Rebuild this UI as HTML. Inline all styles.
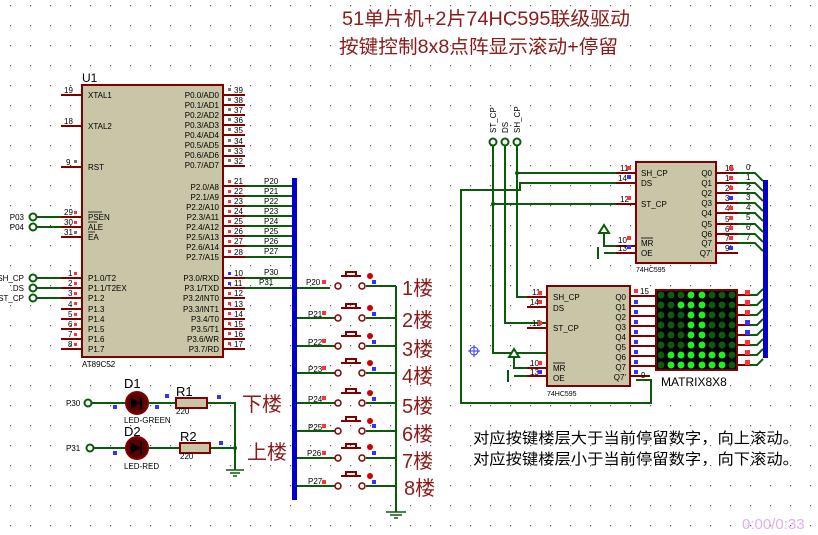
<!DOCTYPE html>
<html><head><meta charset="utf-8"><style>
html,body{margin:0;padding:0;background:#fff;width:818px;height:535px;overflow:hidden}
svg{display:block}
.t{font-family:"Liberation Sans",sans-serif;font-size:8px;fill:#000}
.n{font-family:"Liberation Sans",sans-serif;font-size:8px;fill:#000}
.cn{font-family:"Liberation Sans","Noto Sans CJK SC",sans-serif;fill:#8b1a1a}
.p{stroke:#800000;stroke-width:2;fill:none}
.w{stroke:#0b5a0b;stroke-width:2;fill:none}
.body{fill:#c8c6a6;stroke:#800000;stroke-width:2}
.r{fill:#f33}.b{fill:#33f}.g{fill:#777}
</style></head><body>
<svg width="818" height="535" viewBox="0 0 818 535" xmlns="http://www.w3.org/2000/svg">
<defs><pattern id="dots" width="20" height="20" patternUnits="userSpaceOnUse" x="10" y="5"><rect x="0" y="0" width="1.2" height="1.2" fill="#555"/></pattern></defs>
<rect width="818" height="535" fill="url(#dots)"/>

<!-- Titles -->
<text x="342" y="25" class="cn" font-size="19" textLength="288" lengthAdjust="spacingAndGlyphs">51单片机+2片74HC595联级驱动</text>
<text x="339" y="53" class="cn" font-size="19" textLength="279" lengthAdjust="spacingAndGlyphs">按键控制8x8点阵显示滚动+停留</text>

<!-- U1 -->
<text x="82" y="82" font-family="Liberation Sans" font-size="12">U1</text>
<g class="p">
<path d="M61 95H82M61 126H82M61 167H82M61 217H82M61 227H82M61 237H82"/>
<path d="M61 278H82M61 288H82M61 298H82M61 309H82M61 319H82M61 329H82M61 339H82M61 349H82"/>
<path d="M223 95H245M223 105H245M223 115H245M223 125H245M223 135H245M223 146H245M223 156H245M223 166H245"/>
<path d="M223 186H245M223 196H245M223 206H245M223 216H245M223 226H245M223 236H245M223 246H245M223 257H245"/>
<path d="M223 278H245M223 288H245M223 298H245M223 309H245M223 319H245M223 329H245M223 339H245M223 349H245"/>
</g>
<rect x="82" y="85" width="141" height="272" class="body"/>
<g class="t">
<text x="88" y="98">XTAL1</text><text x="88" y="129">XTAL2</text><text x="88" y="170">RST</text>
<text x="88" y="220">PSEN</text><text x="88" y="230">ALE</text><text x="88" y="240">EA</text>
<text x="88" y="281">P1.0/T2</text><text x="88" y="291">P1.1/T2EX</text><text x="88" y="301">P1.2</text><text x="88" y="312">P1.3</text><text x="88" y="322">P1.4</text><text x="88" y="332">P1.5</text><text x="88" y="342">P1.6</text><text x="88" y="352">P1.7</text>
</g>
<path d="M88 212H102M88 222H97M88 232H95" stroke="#000" stroke-width="0.8"/>
<g class="t" text-anchor="end">
<text x="219" y="98">P0.0/AD0</text><text x="219" y="108">P0.1/AD1</text><text x="219" y="118">P0.2/AD2</text><text x="219" y="128">P0.3/AD3</text><text x="219" y="138">P0.4/AD4</text><text x="219" y="148">P0.5/AD5</text><text x="219" y="158">P0.6/AD6</text><text x="219" y="168">P0.7/AD7</text>
<text x="219" y="190">P2.0/A8</text><text x="219" y="200">P2.1/A9</text><text x="219" y="210">P2.2/A10</text><text x="219" y="220">P2.3/A11</text><text x="219" y="230">P2.4/A12</text><text x="219" y="240">P2.5/A13</text><text x="219" y="250">P2.6/A14</text><text x="219" y="260">P2.7/A15</text>
<text x="219" y="281">P3.0/RXD</text><text x="219" y="291">P3.1/TXD</text><text x="219" y="301">P3.2/INT0</text><text x="219" y="312">P3.3/INT1</text><text x="219" y="322">P3.4/T0</text><text x="219" y="332">P3.5/T1</text><text x="219" y="342">P3.6/WR</text><text x="219" y="352">P3.7/RD</text>
</g>
<text x="82" y="367" class="t" font-size="7">AT89C52</text>
<g class="n" font-size="7">
<text x="64" y="93">19</text><text x="64" y="124">18</text><text x="66" y="165">9</text><text x="64" y="215">29</text><text x="64" y="225">30</text><text x="64" y="235">31</text>
<text x="68" y="276">1</text><text x="68" y="286">2</text><text x="68" y="296">3</text><text x="68" y="307">4</text><text x="68" y="317">5</text><text x="68" y="327">6</text><text x="68" y="337">7</text><text x="68" y="347">8</text>
<text x="234" y="93">39</text><text x="234" y="103">38</text><text x="234" y="113">37</text><text x="234" y="123">36</text><text x="234" y="133">35</text><text x="234" y="144">34</text><text x="234" y="154">33</text><text x="234" y="164">32</text>
<text x="234" y="184">21</text><text x="234" y="194">22</text><text x="234" y="204">23</text><text x="234" y="214">24</text><text x="234" y="224">25</text><text x="234" y="234">26</text><text x="234" y="244">27</text><text x="234" y="255">28</text>
<text x="234" y="276">10</text><text x="234" y="286">11</text><text x="234" y="296">12</text><text x="234" y="307">13</text><text x="234" y="317">14</text><text x="234" y="327">15</text><text x="234" y="337">16</text><text x="234" y="347">17</text>
</g>
<g class="g"><rect x="228" y="88" width="3" height="3"/><rect x="228" y="98" width="3" height="3"/><rect x="228" y="108" width="3" height="3"/><rect x="228" y="118" width="3" height="3"/><rect x="228" y="128" width="3" height="3"/><rect x="228" y="139" width="3" height="3"/><rect x="228" y="149" width="3" height="3"/><rect x="228" y="159" width="3" height="3"/><rect x="74" y="160" width="3" height="3"/><rect x="74" y="231" width="3" height="3"/></g>
<g class="r"><rect x="228" y="180" width="3" height="3"/><rect x="228" y="190" width="3" height="3"/><rect x="228" y="200" width="3" height="3"/><rect x="228" y="210" width="3" height="3"/><rect x="228" y="220" width="3" height="3"/><rect x="228" y="230" width="3" height="3"/><rect x="228" y="240" width="3" height="3"/><rect x="228" y="250" width="3" height="3"/>
<rect x="228" y="292" width="3" height="3"/><rect x="228" y="302" width="3" height="3"/><rect x="228" y="312" width="3" height="3"/><rect x="228" y="322" width="3" height="3"/><rect x="228" y="332" width="3" height="3"/><rect x="228" y="342" width="3" height="3"/>
<rect x="74" y="211" width="3" height="3"/><rect x="74" y="221" width="3" height="3"/><rect x="74" y="272" width="3" height="3"/><rect x="74" y="282" width="3" height="3"/><rect x="74" y="292" width="3" height="3"/><rect x="74" y="302" width="3" height="3"/><rect x="74" y="313" width="3" height="3"/><rect x="74" y="323" width="3" height="3"/><rect x="74" y="333" width="3" height="3"/><rect x="74" y="343" width="3" height="3"/></g>
<g class="b"><rect x="228" y="272" width="3" height="3"/><rect x="228" y="282" width="3" height="3"/></g>

<!-- left terminals -->
<g class="w"><path d="M37 217H61M37 227H61M37 278H61M37 288H61M37 298H61"/></g>
<g fill="#fff" stroke="#0b5a0b" stroke-width="2"><circle cx="33" cy="217" r="3.5"/><circle cx="33" cy="227" r="3.5"/><circle cx="33" cy="278" r="3.5"/><circle cx="33" cy="288" r="3.5"/><circle cx="33" cy="298" r="3.5"/></g>
<g class="n" text-anchor="end"><text x="24" y="220">P03</text><text x="24" y="230">P04</text><text x="24" y="281">SH_CP</text><text x="24" y="291">.DS</text><text x="24" y="301">ST_CP</text></g>

<!-- bus left -->
<g class="w"><path d="M245 186H293M245 196H293M245 206H293M245 216H293M245 226H293M245 236H293M245 246H293M245 257H293M245 278H293M245 288H330"/>
<path d="M297 318H335M297 346H335M297 373H335M297 403H335M297 431H335M297 458H335M297 486H335"/></g>
<rect x="292" y="178" width="5" height="322" fill="#0000c8"/>
<g class="n"><text x="264" y="184">P20</text><text x="264" y="194">P21</text><text x="264" y="204">P22</text><text x="264" y="214">P23</text><text x="264" y="224">P24</text><text x="264" y="234">P25</text><text x="264" y="244">P26</text><text x="264" y="254">P27</text><text x="264" y="275">P30</text><text x="259" y="285">P31</text>
<text x="306" y="285">P20</text><text x="308" y="317">P21</text><text x="308" y="345">P22</text><text x="308" y="372">P23</text><text x="308" y="402">P24</text><text x="308" y="430">P25</text><text x="307" y="456">P26</text><text x="308" y="484">P27</text></g>

<!-- switches -->
<g>
<g class="w"><path d="M366 286H396M366 318H396M366 346H396M366 373H396M366 403H396M366 431H396M366 458H396M366 486H396M396 286V512"/></g>
<g stroke="#800000" stroke-width="2" fill="none">
<path d="M341 276h20M346 276v-4h10v4"/><path d="M341 308h20M346 308v-4h10v4"/><path d="M341 336h20M346 336v-4h10v4"/><path d="M341 363h20M346 363v-4h10v4"/><path d="M341 393h20M346 393v-4h10v4"/><path d="M341 421h20M346 421v-4h10v4"/><path d="M341 448h20M346 448v-4h10v4"/><path d="M341 476h20M346 476v-4h10v4"/>
</g>
<g fill="#fff" stroke="#800000" stroke-width="1.5">
<circle cx="338" cy="286" r="3"/><circle cx="362" cy="286" r="3"/><circle cx="338" cy="318" r="3"/><circle cx="362" cy="318" r="3"/><circle cx="338" cy="346" r="3"/><circle cx="362" cy="346" r="3"/><circle cx="338" cy="373" r="3"/><circle cx="362" cy="373" r="3"/><circle cx="338" cy="403" r="3"/><circle cx="362" cy="403" r="3"/><circle cx="338" cy="431" r="3"/><circle cx="362" cy="431" r="3"/><circle cx="338" cy="458" r="3"/><circle cx="362" cy="458" r="3"/><circle cx="338" cy="486" r="3"/><circle cx="362" cy="486" r="3"/></g>
<g fill="#c00"><circle cx="370" cy="276" r="3"/><circle cx="370" cy="308" r="3"/><circle cx="370" cy="336" r="3"/><circle cx="370" cy="363" r="3"/><circle cx="370" cy="393" r="3"/><circle cx="370" cy="421" r="3"/><circle cx="370" cy="447" r="3"/><circle cx="370" cy="476" r="3"/></g>
<g class="b"><rect x="372" y="280" width="4" height="4"/><rect x="372" y="312" width="4" height="4"/><rect x="372" y="340" width="4" height="4"/><rect x="372" y="367" width="4" height="4"/><rect x="372" y="397" width="4" height="4"/><rect x="372" y="424" width="4" height="4"/><rect x="372" y="451" width="4" height="4"/><rect x="372" y="480" width="4" height="4"/></g>
<g class="r"><rect x="322" y="280" width="4" height="4"/><rect x="322" y="311" width="4" height="4"/><rect x="322" y="339" width="4" height="4"/><rect x="322" y="366" width="4" height="4"/><rect x="322" y="396" width="4" height="4"/><rect x="322" y="424" width="4" height="4"/><rect x="322" y="451" width="4" height="4"/><rect x="322" y="480" width="4" height="4"/></g>
<path d="M386 512h20M390 515h12M394 518h4" stroke="#0b5a0b" stroke-width="1.5"/>
</g>
<g class="cn" font-size="20"><text x="402" y="295">1楼</text><text x="402" y="327">2楼</text><text x="402" y="356">3楼</text><text x="402" y="383">4楼</text><text x="402" y="413">5楼</text><text x="402" y="441">6楼</text><text x="402" y="468">7楼</text><text x="404" y="495">8楼</text></g>

<!-- LEDs -->
<g class="w"><path d="M92 403H125M149 403H176M207 403H235V470M92 448H125M149 448H180M210 448H235"/><path d="M226 470h18M230 473h10M233 476h4" stroke-width="1.5"/></g>
<circle cx="235" cy="448" r="2" fill="#0b5a0b"/>
<g fill="#fff" stroke="#0b5a0b" stroke-width="2"><circle cx="88" cy="403" r="3.5"/><circle cx="90" cy="448" r="3.5"/></g>
<g fill="#5a0000" stroke="#800000" stroke-width="2"><circle cx="137" cy="403" r="11"/><circle cx="137" cy="448" r="11"/></g>
<g fill="#000"><path d="M131 397v12l9-6zM131 442v12l9-6z"/><path d="M141 397v12M141 442v12" stroke="#000" stroke-width="2"/></g>
<rect x="176" y="398" width="31" height="10" class="body"/><rect x="180" y="443" width="30" height="10" class="body"/>
<g font-family="Liberation Sans" font-size="13"><text x="124" y="388">D1</text><text x="124" y="436">D2</text><text x="176" y="396">R1</text><text x="180" y="441">R2</text></g>
<g class="n"><text x="124" y="423">LED-GREEN</text><text x="124" y="469">LED-RED</text><text x="176" y="414">220</text><text x="180" y="459">220</text><text x="66" y="406">P30</text><text x="66" y="451">P31</text></g>
<g class="b"><rect x="113" y="405" width="4" height="4"/><rect x="155" y="405" width="4" height="4"/><rect x="165" y="394" width="4" height="4"/><rect x="217" y="395" width="4" height="4"/><rect x="113" y="451" width="4" height="4"/><rect x="219" y="441" width="4" height="4"/></g>
<g class="cn" font-size="20"><text x="242" y="411">下楼</text><text x="247" y="459">上楼</text></g>

<!-- Right section terminals -->
<g class="w">
<path d="M493 146V353H547M505 146V323H547M517 146V297H547"/>
<path d="M517 173H631M493 204H631M631 183H520V190H461V403H651V380H636"/>
<path d="M604 233V246H631M604 253H631M598 247V259"/>
<path d="M514 357V368H547M514 376H547M508 370V382"/>
</g>
<g fill="#0b5a0b"><circle cx="517" cy="173" r="2"/><circle cx="493" cy="204" r="2"/></g>
<g fill="#fff" stroke="#0b5a0b" stroke-width="2"><path d="M599 233l5-8 5 8z"/><path d="M509 357l5-8 5 8z"/></g>
<g fill="#fff" stroke="#0b5a0b" stroke-width="2"><circle cx="493" cy="142" r="3.5"/><circle cx="505" cy="142" r="3.5"/><circle cx="517" cy="142" r="3.5"/></g>
<g class="n" font-size="7"><text transform="translate(496 133) rotate(-90)">ST_CP</text><text transform="translate(508 133) rotate(-90)">DS</text><text transform="translate(520 133) rotate(-90)">SH_CP</text></g>

<!-- upper 595 -->
<g class="p"><path d="M616 173H636M616 183H636M616 204H636M616 246H636M616 253H636M716 173H738M716 183H738M716 193H738M716 203H738M716 213H738M716 224H738M716 234H738M716 243H738M716 253H738"/></g>
<rect x="636" y="162" width="80" height="101" class="body"/>
<g class="t"><text x="641" y="176">SH_CP</text><text x="641" y="186">DS</text><text x="641" y="207">ST_CP</text><text x="641" y="246">MR</text><text x="641" y="256">OE</text><text x="636" y="272" font-size="7">74HC595</text></g>
<path d="M641 238h12" stroke="#000" stroke-width="0.8"/>
<g class="t" text-anchor="end"><text x="712" y="176">Q0</text><text x="712" y="186">Q1</text><text x="712" y="196">Q2</text><text x="712" y="206">Q3</text><text x="712" y="216">Q4</text><text x="712" y="227">Q5</text><text x="712" y="237">Q6</text><text x="712" y="246">Q7</text><text x="712" y="256">Q7'</text></g>
<g class="n" font-size="7"><text x="620" y="171">11</text><text x="618" y="181">14</text><text x="620" y="202">12</text><text x="618" y="243">10</text><text x="618" y="251">13</text>
<text x="725" y="171">15</text><text x="725" y="181">1</text><text x="725" y="191">2</text><text x="725" y="201">3</text><text x="725" y="211">4</text><text x="725" y="222">5</text><text x="725" y="232">6</text><text x="725" y="241">7</text><text x="725" y="251">9</text></g>
<g class="n"><text x="746" y="170">0</text><text x="746" y="180">1</text><text x="746" y="190">2</text><text x="746" y="200">3</text><text x="746" y="210">4</text><text x="746" y="220">5</text><text x="746" y="230">6</text><text x="746" y="240">7</text></g>

<!-- lower 595 -->
<g class="p"><path d="M527 297H547M527 307H547M527 328H547M527 368H547M527 376H547M630 296H656M630 306H656M630 316H656M630 326H656M630 336H656M630 346H656M630 356H656M630 366H656M630 376H650"/></g>
<rect x="547" y="286" width="83" height="100" class="body"/>
<g class="t"><text x="553" y="300">SH_CP</text><text x="553" y="311">DS</text><text x="553" y="331">ST_CP</text><text x="553" y="371">MR</text><text x="553" y="381">OE</text><text x="547" y="396" font-size="7">74HC595</text></g>
<path d="M553 363h12" stroke="#000" stroke-width="0.8"/>
<g class="t" text-anchor="end"><text x="626" y="300">Q0</text><text x="626" y="310">Q1</text><text x="626" y="320">Q2</text><text x="626" y="330">Q3</text><text x="626" y="340">Q4</text><text x="626" y="350">Q5</text><text x="626" y="360">Q6</text><text x="626" y="370">Q7</text><text x="626" y="380">Q7'</text></g>
<g class="n" font-size="7"><text x="532" y="295">11</text><text x="530" y="305">14</text><text x="532" y="326">12</text><text x="530" y="366">10</text><text x="530" y="375">13</text><text x="640" y="294">15</text><text x="641" y="378">9</text></g>

<!-- matrix -->
<rect x="656" y="290" width="81" height="80" fill="#000" stroke="#800000" stroke-width="2"/>
<g fill="#0e5a0e">
<circle cx="661" cy="295" r="3.5"/><circle cx="671" cy="295" r="3.5"/><circle cx="681" cy="295" r="3.5"/><circle cx="712" cy="295" r="3.5"/><circle cx="722" cy="295" r="3.5"/><circle cx="732" cy="295" r="3.5"/>
<circle cx="661" cy="305" r="3.5"/><circle cx="671" cy="305" r="3.5"/><circle cx="712" cy="305" r="3.5"/><circle cx="722" cy="305" r="3.5"/><circle cx="732" cy="305" r="3.5"/>
<circle cx="661" cy="315" r="3.5"/><circle cx="671" cy="315" r="3.5"/><circle cx="681" cy="315" r="3.5"/><circle cx="712" cy="315" r="3.5"/><circle cx="722" cy="315" r="3.5"/><circle cx="732" cy="315" r="3.5"/>
<circle cx="661" cy="325" r="3.5"/><circle cx="671" cy="325" r="3.5"/><circle cx="681" cy="325" r="3.5"/><circle cx="712" cy="325" r="3.5"/><circle cx="722" cy="325" r="3.5"/><circle cx="732" cy="325" r="3.5"/>
<circle cx="661" cy="335" r="3.5"/><circle cx="671" cy="335" r="3.5"/><circle cx="681" cy="335" r="3.5"/><circle cx="712" cy="335" r="3.5"/><circle cx="722" cy="335" r="3.5"/><circle cx="732" cy="335" r="3.5"/>
<circle cx="661" cy="345" r="3.5"/><circle cx="671" cy="345" r="3.5"/><circle cx="681" cy="345" r="3.5"/><circle cx="712" cy="345" r="3.5"/><circle cx="722" cy="345" r="3.5"/><circle cx="732" cy="345" r="3.5"/>
<circle cx="661" cy="355" r="3.5"/><circle cx="732" cy="355" r="3.5"/><circle cx="661" cy="365" r="3.5"/><circle cx="732" cy="365" r="3.5"/></g>
<g fill="#22ee22">
<circle cx="691" cy="295" r="3.5"/><circle cx="702" cy="295" r="3.5"/>
<circle cx="681" cy="305" r="3.5"/><circle cx="691" cy="305" r="3.5"/><circle cx="702" cy="305" r="3.5"/>
<circle cx="691" cy="315" r="3.5"/><circle cx="702" cy="315" r="3.5"/><circle cx="691" cy="325" r="3.5"/><circle cx="702" cy="325" r="3.5"/><circle cx="691" cy="335" r="3.5"/><circle cx="702" cy="335" r="3.5"/><circle cx="691" cy="345" r="3.5"/><circle cx="702" cy="345" r="3.5"/>
<circle cx="671" cy="355" r="3.5"/><circle cx="681" cy="355" r="3.5"/><circle cx="691" cy="355" r="3.5"/><circle cx="702" cy="355" r="3.5"/><circle cx="712" cy="355" r="3.5"/><circle cx="722" cy="355" r="3.5"/>
<circle cx="671" cy="365" r="3.5"/><circle cx="681" cy="365" r="3.5"/><circle cx="691" cy="365" r="3.5"/><circle cx="702" cy="365" r="3.5"/><circle cx="712" cy="365" r="3.5"/><circle cx="722" cy="365" r="3.5"/></g>
<g class="p"><path d="M737 295H750M737 305H750M737 315H750M737 325H750M737 335H750M737 345H750M737 355H750M737 365H750"/></g>
<text x="661" y="386" font-family="Liberation Sans" font-size="12">MATRIX8X8</text>

<!-- right bus -->
<g class="w"><path d="M738 173H755L763 181M738 183H755L763 191M738 193H755L763 201M738 203H755L763 211M738 213H755L763 221M738 224H755L763 232M738 234H755L763 242M738 243H755L763 251"/>
<path d="M750 295H757L763 289M750 305H757L763 299M750 315H757L763 309M750 325H757L763 319M750 335H757L763 329M750 345H757L763 339M750 355H757L763 349M750 365H757L763 359"/></g>
<rect x="763" y="180" width="5" height="178" fill="#0000c8"/>
<g class="r"><rect x="729" y="166" width="4" height="4"/><rect x="729" y="176" width="4" height="4"/><rect x="729" y="186" width="4" height="4"/><rect x="729" y="206" width="4" height="4"/><rect x="729" y="216" width="4" height="4"/><rect x="729" y="226" width="4" height="4"/><rect x="729" y="236" width="4" height="4"/><rect x="627" y="166" width="4" height="4"/><rect x="627" y="196" width="4" height="4"/><rect x="627" y="236" width="4" height="4"/><rect x="538" y="291" width="4" height="4"/><rect x="538" y="300" width="4" height="4"/><rect x="538" y="321" width="4" height="4"/><rect x="538" y="361" width="4" height="4"/><rect x="634" y="289" width="4" height="4"/><rect x="745" y="290" width="5" height="5"/><rect x="745" y="300" width="5" height="5"/><rect x="745" y="310" width="5" height="5"/><rect x="745" y="340" width="5" height="5"/><rect x="745" y="350" width="5" height="5"/><rect x="745" y="360" width="5" height="5"/></g>
<g class="b"><rect x="627" y="175" width="4" height="4"/><rect x="627" y="245" width="4" height="4"/><rect x="729" y="196" width="4" height="4"/><rect x="729" y="246" width="4" height="4"/><rect x="538" y="370" width="4" height="4"/><rect x="634" y="300" width="4" height="4"/><rect x="634" y="310" width="4" height="4"/><rect x="634" y="320" width="4" height="4"/><rect x="634" y="330" width="4" height="4"/><rect x="634" y="340" width="4" height="4"/><rect x="634" y="350" width="4" height="4"/><rect x="634" y="360" width="4" height="4"/><rect x="634" y="370" width="4" height="4"/><rect x="745" y="320" width="5" height="5"/><rect x="745" y="330" width="5" height="5"/></g>
<g stroke="#33f" stroke-width="1" fill="none"><circle cx="474" cy="351" r="4"/><path d="M468 351h12M474 345v12"/></g>

<!-- notes -->
<g font-family="Liberation Sans,'Noto Sans CJK SC',sans-serif" font-size="15" fill="#000"><text x="473" y="443" textLength="326" lengthAdjust="spacingAndGlyphs">对应按键楼层大于当前停留数字，向上滚动。</text><text x="473" y="464" textLength="326" lengthAdjust="spacingAndGlyphs">对应按键楼层小于当前停留数字，向下滚动。</text></g>
<text x="742" y="529" font-family="Liberation Sans" font-size="15" fill="#e0b0f0">0:00/0:33</text>
</svg>
</body></html>
